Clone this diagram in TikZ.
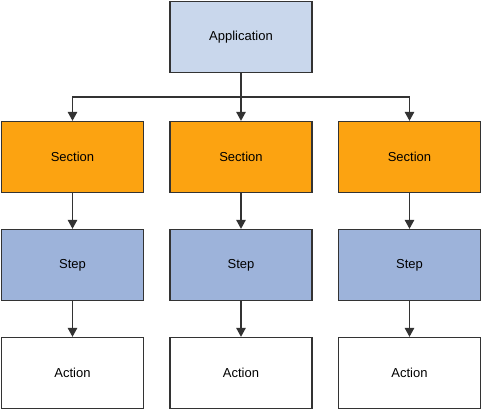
\documentclass[tikz,border=0pt]{standalone}
\usepackage{fontspec}
\setmainfont{Liberation Sans}
\usetikzlibrary{arrows.meta}
\definecolor{appblue}{HTML}{C9D7EC}
\definecolor{secorange}{HTML}{FCA311}
\definecolor{stepblue}{HTML}{9DB3DA}
\definecolor{edge}{HTML}{333333}
\begin{document}
\begin{tikzpicture}[x=1pt,y=-1pt,
  box/.style={draw=edge,line width=1.3pt,minimum width=142pt,minimum height=71pt,inner sep=0pt,font=\fontsize{13}{15}\selectfont,anchor=center},
  appbox/.style={box,fill=appblue},
  secbox/.style={box,fill=secorange},
  stepbox/.style={box,fill=stepblue},
  actbox/.style={box,fill=white},
  conn/.style={draw=edge,line width=1.3pt,-{Triangle[length=9pt,width=9.5pt]}},
  plain/.style={draw=edge,line width=1.3pt}]
\useasboundingbox (0,0) rectangle (483,411);
\node[appbox] (app) at (241,37) {Application};
\foreach \i/\x in {1/72.5,2/241,3/409.5}{
  \node[secbox] (sec\i) at (\x,157) {Section};
  \node[stepbox] (step\i) at (\x,265) {Step};
  \node[actbox] (act\i) at (\x,373) {Action};
  \draw[conn] (sec\i) -- (step\i);
  \draw[conn] (step\i) -- (act\i);
}
\coordinate (split) at (241,97);
\draw[plain] (app.south) -- (split);
\draw[conn] (split) -- (sec2);
\draw[conn] (split) -| (sec1.north);
\draw[conn] (split) -| (sec3.north);
\end{tikzpicture}
\end{document}
